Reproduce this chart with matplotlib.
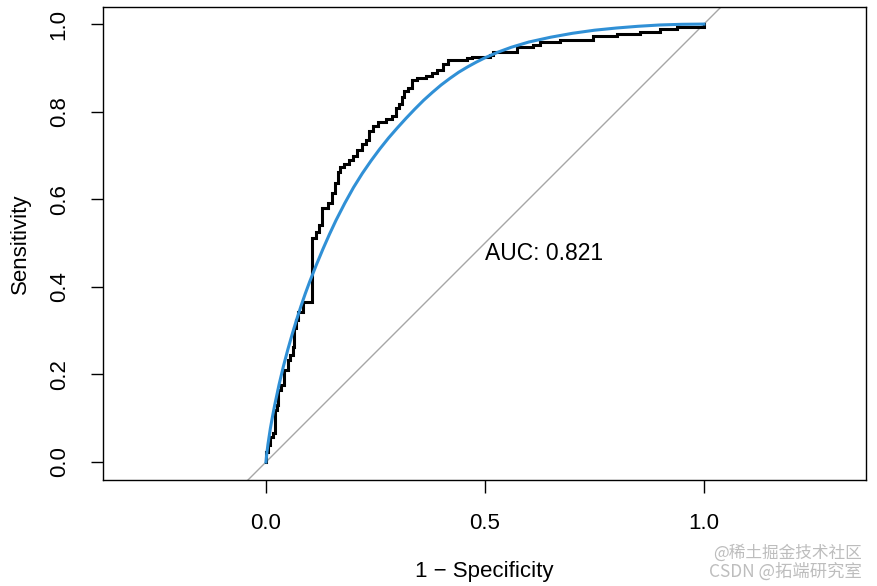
"""ROC curve with smoothed (binormal-looking) fit, pROC-style layout."""

import matplotlib

matplotlib.use("Agg")
import matplotlib.pyplot as plt  # noqa: E402

emp_fpr = [0.0, 0.0, 0.005, 0.009, 0.016, 0.021, 0.025, 0.027, 0.034, 0.041,
           0.050, 0.055, 0.062, 0.064, 0.068, 0.073, 0.084, 0.105, 0.114, 0.121,
           0.128, 0.142, 0.151, 0.158, 0.164, 0.169, 0.178, 0.189, 0.199, 0.208,
           0.219, 0.228, 0.235, 0.244, 0.256, 0.274, 0.288, 0.297, 0.304, 0.311,
           0.315, 0.324, 0.333, 0.345, 0.365, 0.379, 0.390, 0.404, 0.416, 0.459,
           0.470, 0.511, 0.518, 0.573, 0.610, 0.626, 0.671, 0.747, 0.801, 0.854,
           0.900, 0.938, 1.0]
emp_tpr = [0.0, 0.023, 0.039, 0.057, 0.066, 0.119, 0.130, 0.164, 0.176, 0.210,
           0.233, 0.244, 0.263, 0.306, 0.324, 0.342, 0.365, 0.511, 0.525, 0.541,
           0.580, 0.591, 0.614, 0.637, 0.662, 0.674, 0.680, 0.689, 0.699, 0.712,
           0.726, 0.735, 0.756, 0.767, 0.776, 0.783, 0.790, 0.808, 0.817, 0.833,
           0.847, 0.854, 0.872, 0.877, 0.881, 0.888, 0.895, 0.909, 0.918, 0.922,
           0.925, 0.929, 0.936, 0.947, 0.952, 0.959, 0.963, 0.973, 0.977, 0.982,
           0.989, 0.993, 1.0]

# smoothed ROC
smooth_fpr = [0.0, 0.002, 0.005, 0.010, 0.015, 0.020, 0.030, 0.040, 0.050, 0.060,
              0.070, 0.080, 0.090, 0.100, 0.115, 0.130, 0.145, 0.160, 0.180, 0.200,
              0.220, 0.240, 0.260, 0.280, 0.300, 0.320, 0.340, 0.360, 0.380, 0.400,
              0.420, 0.440, 0.460, 0.480, 0.500, 0.530, 0.560, 0.600, 0.650, 0.700,
              0.750, 0.800, 0.850, 0.900, 0.950, 1.0]
smooth_tpr = [0.0, 0.020, 0.043, 0.076, 0.104, 0.130, 0.177, 0.219, 0.257, 0.292,
              0.325, 0.356, 0.385, 0.412, 0.450, 0.486, 0.520, 0.552, 0.591, 0.627,
              0.659, 0.688, 0.715, 0.740, 0.763, 0.785, 0.806, 0.826, 0.844, 0.861,
              0.876, 0.890, 0.902, 0.913, 0.923, 0.936, 0.947, 0.959, 0.970, 0.979,
              0.986, 0.991, 0.995, 0.998, 0.9995, 1.0]

AUC_LABEL = "AUC: 0.821"
X_TICKS = [0.0, 0.5, 1.0]
Y_TICKS = [0.0, 0.2, 0.4, 0.6, 0.8, 1.0]

plt.rcParams["font.family"] = ["Liberation Sans", "DejaVu Sans"]

fig = plt.figure(figsize=(8.77, 5.86), dpi=100)
ax = fig.add_axes([103 / 877, 106 / 586, 763 / 877, 473 / 586])

ax.axline((0, 0), (1, 1), color="#a6a6a6", lw=1.0, zorder=1)
ax.plot(emp_fpr, emp_tpr, drawstyle="steps-post", color="black", lw=2.2,
        solid_joinstyle="miter", zorder=2)
ax.plot(smooth_fpr, smooth_tpr, color="#3090d6", lw=2.2, zorder=3)

ax.text(0.5, 0.477, AUC_LABEL, fontsize=16.5, ha="left", va="center")

ax.set_xlim(-0.372, 1.37)
ax.set_ylim(-0.041, 1.039)
ax.set_xticks(X_TICKS)
ax.set_xticklabels([f"{t:.1f}" for t in X_TICKS])
ax.set_yticks(Y_TICKS)
ax.set_yticklabels([f"{t:.1f}" for t in Y_TICKS], rotation=90, va="center")
ax.tick_params(axis="both", length=9, width=1.0, pad=15, labelsize=16)
for sp in ax.spines.values():
    sp.set_linewidth(1.0)

ax.set_xlabel("1 \u2212 Specificity", fontsize=16, labelpad=19)
ax.set_ylabel("Sensitivity", fontsize=16, labelpad=13)

# site watermark (two stacked lines, bottom right)
wm = ["Noto Sans CJK SC", "DejaVu Sans"]
fig.text(862 / 877, 1 - 553 / 586, "@稀土掘金技术社区", family=wm, fontsize=12,
         color="#bdbdbd", ha="right", va="center")
fig.text(862 / 877, 1 - 572 / 586, "CSDN @拓端研究室", family=wm, fontsize=12.5,
         color="#bdbdbd", ha="right", va="center")

fig.savefig("out.png", dpi=100, facecolor="white")
